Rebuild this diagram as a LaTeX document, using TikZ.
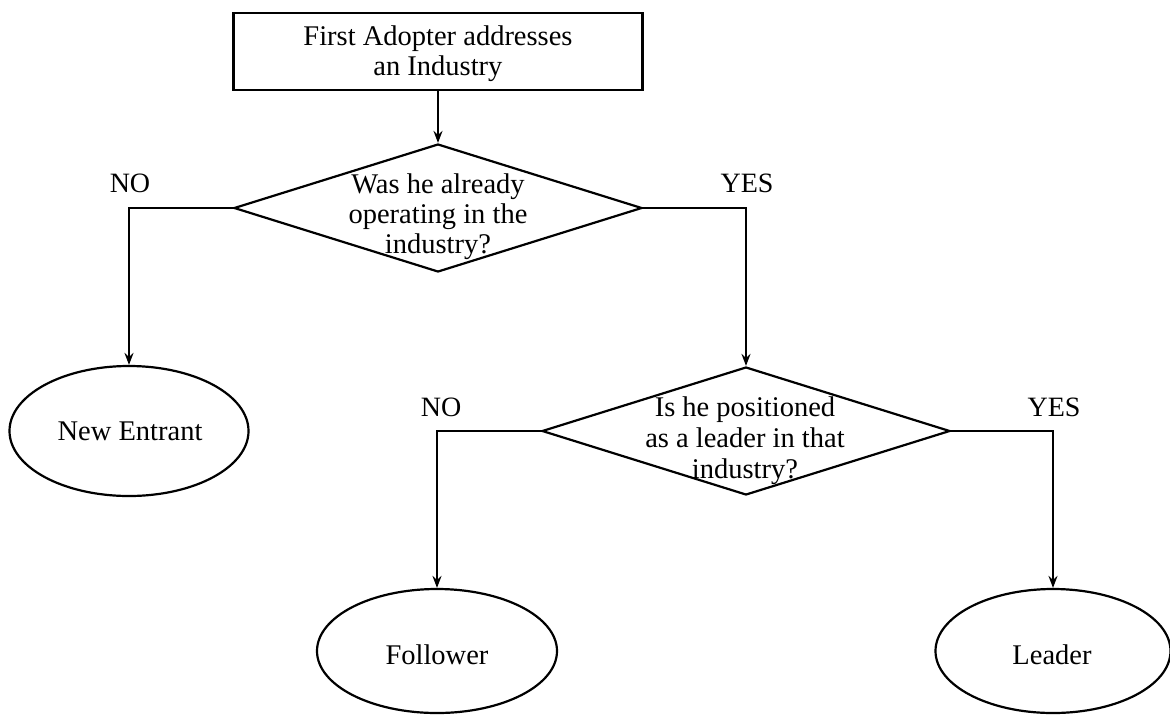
\documentclass[tikz,border=0pt]{standalone}
\usepackage{fontspec}
\setmainfont{Liberation Serif}
\usetikzlibrary{shapes.geometric,arrows.meta}

\tikzset{
  shapeline/.style={draw=black, line width=2.2pt, inner sep=0pt},
  startbox/.style={shapeline, rectangle, minimum width=409pt, minimum height=77pt},
  decision/.style={shapeline, diamond, minimum width=408pt, minimum height=128pt},
  outcome/.style={shapeline, ellipse},
  txt/.style={align=center, anchor=base, inner sep=0pt,
    font=\fontsize{28.5}{30}\selectfont},
  branch/.style={anchor=base, inner sep=0pt, font=\fontsize{28}{30}\selectfont},
  flow/.style={line width=2.2pt, -{Stealth[length=12pt,width=9pt,inset=4pt]}}
}

\begin{document}
\begin{tikzpicture}[x=1pt, y=-1pt]
  \useasboundingbox (0,0) rectangle (1170,716);

  % start box
  \node[startbox] (start) at (438,51.5) {};
  \node[txt] (starttxt) at (438,75) {First Adopter addresses\\an Industry};

  % decisions
  \node[decision] (q1) at (438,208) {};
  \node[txt] (q1txt) at (438,253) {Was he already\\operating in the\\industry?};

  \node[decision] (q2) at (746,431) {};
  \node[txt] (q2txt) at (745,478) {Is he positioned\\[1pt]as a leader in that\\[1pt]industry?};

  % outcomes
  \node[outcome, minimum width=239pt, minimum height=130pt] (entrant) at (129,431) {};
  \node[txt] (entranttxt) at (130,440) {New Entrant};

  \node[outcome, minimum width=240pt, minimum height=124pt] (follower) at (437,651) {};
  \node[txt] (followertxt) at (437,664) {Follower};

  \node[outcome, minimum width=235pt, minimum height=124pt] (leader) at (1053,651) {};
  \node[txt] (leadertxt) at (1052,664) {Leader};

  % connectors
  \draw[flow] (start.south) -- (q1.north);
  \draw[flow] (q1.west) -| (entrant.north);
  \draw[flow] (q1.east) -| (q2.north);
  \draw[flow] (q2.west) -| (follower.north);
  \draw[flow] (q2.east) -| (leader.north);

  % branch labels
  \node[branch] (no1) at (130,192) {NO};
  \node[branch] (yes1) at (747,192) {YES};
  \node[branch] (no2) at (441,416) {NO};
  \node[branch] (yes2) at (1054,416) {YES};
\end{tikzpicture}
\end{document}
